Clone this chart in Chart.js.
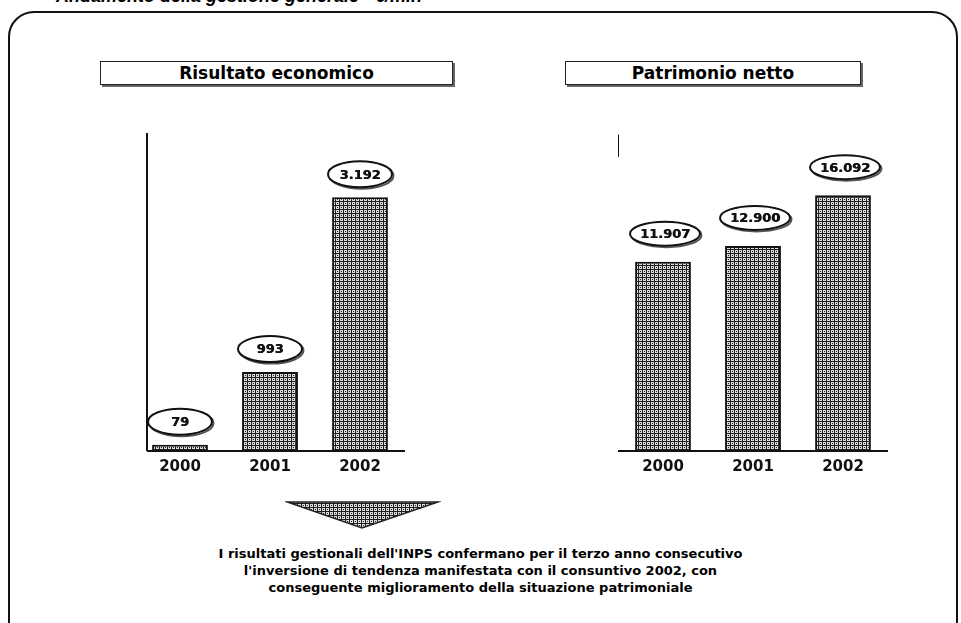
<!DOCTYPE html>
<html>
<head>
<meta charset="utf-8">
<script src="https://cdn.jsdelivr.net/npm/chart.js@4.4.1/dist/chart.umd.min.js"></script>
<style>
  body { margin: 0; width: 961px; height: 623px; background: #fff; position: relative; overflow: hidden; font-family: "DejaVu Sans", sans-serif; }
  .frame { position: absolute; left: 8px; top: 11px; width: 950px; height: 640px; border: 2px solid #111; border-radius: 26px; box-sizing: border-box; }
  .title { position: absolute; left: 56px; top: -14px; font: italic bold 18px "Liberation Sans"; white-space: nowrap; }
  .hbox { position: absolute; top: 61px; height: 24px; border: 1px solid #222; box-shadow: 2px 2px 0 #666; font: bold 17px "DejaVu Sans"; text-align: center; line-height: 22px; box-sizing: border-box; background: #fff; }
  .chart { position: absolute; }
  .note { position: absolute; left: 0; width: 961px; top: 545px; text-align: center; font: bold 13px/17px "DejaVu Sans"; }
  #arrow { position: absolute; left: 285px; top: 499px; }
</style>
</head>
<body>
<div class="frame"></div>
<div class="title">Andamento della gestione generale - €/mln</div>
<div class="hbox" style="left:100px;width:353px;">Risultato economico</div>
<div class="hbox" style="left:565px;width:296px;">Patrimonio netto</div>

<div class="chart" style="left:135px;top:133px;width:270px;height:350px;"><canvas id="left"></canvas></div>
<div class="chart" style="left:618px;top:133px;width:270px;height:350px;"><canvas id="right"></canvas></div>

<canvas id="arrow" width="156" height="32"></canvas>

<div class="note">I risultati gestionali dell'INPS confermano per il terzo anno consecutivo<br>l'inversione di tendenza manifestata con il consuntivo 2002, con<br>conseguente miglioramento della situazione patrimoniale</div>

<script>
const years = ["2000", "2001", "2002"];
const risultato = [79, 993, 3192];
const patrimonio = [11907, 12900, 16092];

const fmt = (v) => String(v).replace(/\B(?=(\d{3})+(?!\d))/g, ".");

const stipple = (ctx) => {
  const c = document.createElement("canvas");
  c.width = 4;
  c.height = 4;
  const g = c.getContext("2d");
  g.fillStyle = "#dcdcdc";
  g.fillRect(0, 0, 4, 4);
  g.fillStyle = "#1e1e1e";
  g.fillRect(0, 0, 4, 1);
  g.fillRect(0, 0, 1, 4);
  g.fillRect(2, 2, 1, 1);
  return ctx.createPattern(c, "repeat");
};

// axis lines, baseline and the oval value labels
const decor = {
  id: "decor",
  afterDatasetsDraw(chart, args, opts) {
    const { ctx, chartArea } = chart;
    const y = chart.scales.y;
    const base = y.getPixelForValue(0);
    ctx.save();
    ctx.strokeStyle = "#111";
    ctx.lineWidth = 2;
    ctx.beginPath();
    ctx.moveTo(chartArea.left + opts.axisDx, y.getPixelForValue(opts.axisFrom));
    ctx.lineTo(chartArea.left + opts.axisDx, y.getPixelForValue(opts.axisTo));
    ctx.stroke();
    ctx.beginPath();
    ctx.moveTo(chartArea.left + opts.baseDx, base);
    ctx.lineTo(chartArea.right, base);
    ctx.stroke();

    const meta = chart.getDatasetMeta(0);
    const data = chart.data.datasets[0].data;
    meta.data.forEach((bar, i) => {
      const cx = bar.x + opts.labelDx;
      const cy = bar.y - opts.labelDy;
      const rx = opts.rx, ry = opts.ry;
      ctx.lineWidth = 2;
      ctx.strokeStyle = "#555";
      ctx.beginPath();
      ctx.ellipse(cx + 1.5, cy + 1.5, rx, ry, 0, 0, Math.PI * 2);
      ctx.stroke();
      ctx.fillStyle = "#fff";
      ctx.strokeStyle = "#111";
      ctx.beginPath();
      ctx.ellipse(cx, cy, rx, ry, 0, 0, Math.PI * 2);
      ctx.fill();
      ctx.stroke();
      ctx.fillStyle = "#111";
      ctx.font = "bold 13px 'DejaVu Sans'";
      ctx.textAlign = "center";
      ctx.textBaseline = "middle";
      const t = fmt(data[i]);
      ctx.fillText(t, cx, cy + 1);
      ctx.fillText(t, cx + 0.6, cy + 1);
    });
    ctx.restore();
  },
};

const makeChart = (id, values, max, opts) => {
  const el = document.getElementById(id);
  return new Chart(el, {
    type: "bar",
    data: {
      labels: years,
      datasets: [{
        data: values,
        backgroundColor: stipple(el.getContext("2d")),
        borderColor: "#111",
        borderWidth: 2,
        borderSkipped: "bottom",
        barPercentage: 0.62,
        categoryPercentage: 1,
      }],
    },
    options: {
      responsive: true,
      maintainAspectRatio: false,
      animation: false,
      layout: { padding: 0 },
      scales: {
        y: { display: false, min: 0, max: max },
        x: {
          grid: { display: false, drawTicks: false },
          border: { display: false },
          ticks: { color: "#111", padding: 7, font: { family: "DejaVu Sans", weight: "bold", size: 15 } },
        },
      },
      plugins: {
        legend: { display: false },
        tooltip: { enabled: false },
        decor: opts,
      },
    },
    plugins: [decor],
  });
};

makeChart("left", risultato, 4000, { axisDx: 12, axisFrom: 4000, axisTo: 0, baseDx: 12, labelDx: 0, labelDy: 23, rx: 32, ry: 13 });
makeChart("right", patrimonio, 20000, { axisDx: 0, axisFrom: 19900, axisTo: 18500, baseDx: 0, labelDx: 2, labelDy: 28, rx: 35, ry: 12 });

// arrow pointing down
const ac = document.getElementById("arrow");
const ag = ac.getContext("2d");
ag.fillStyle = stipple(ag);
ag.strokeStyle = "#222";
ag.lineWidth = 1.5;
ag.beginPath();
ag.moveTo(2, 3);
ag.lineTo(153, 3);
ag.lineTo(77, 29);
ag.closePath();
ag.fill();
ag.stroke();
</script>
</body>
</html>
